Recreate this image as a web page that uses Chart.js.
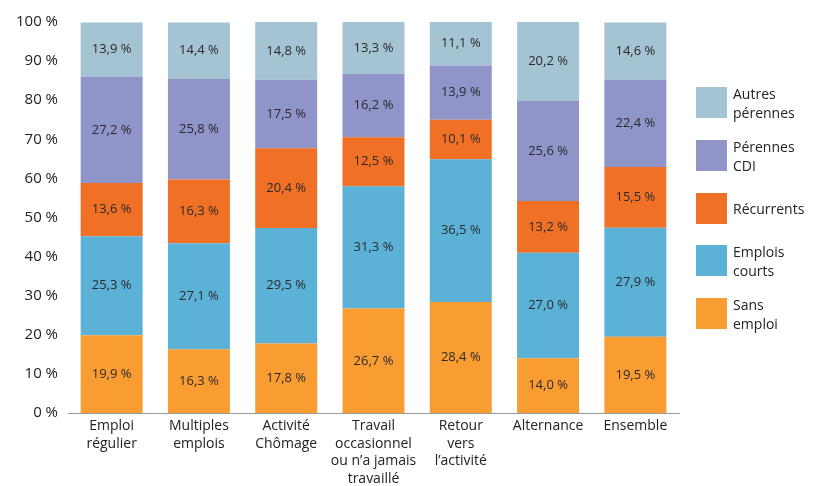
<!DOCTYPE html>
<html>
<head>
<meta charset="utf-8">
<script src="https://cdn.jsdelivr.net/npm/chart.js@4"></script>
<style>
  body { margin: 0; background: #fff; }
  #wrap { position: relative; width: 815px; height: 486px; }
  .leg { position: absolute; left: 696px; font: 14px 'Open Sans', sans-serif; color: #222; }
  .leg span { position: absolute; left: 0; top: 0; width: 31px; height: 31px; }
  .leg div { position: absolute; left: 37px; top: -3px; line-height: 19px; white-space: nowrap; }
</style>
</head>
<body>
<div id="wrap">
  <canvas id="chart"></canvas>
  <div id="legend"></div>
</div>
<script>
const categories = [
  ['Emploi', 'régulier'],
  ['Multiples', 'emplois'],
  ['Activité', 'Chômage'],
  ['Travail', 'occasionnel', 'ou n\u2019a jamais', 'travaillé'],
  ['Retour', 'vers', 'l\u2019activité'],
  'Alternance',
  'Ensemble'
];

const sansEmploi = [19.9, 16.3, 17.8, 26.7, 28.4, 14.0, 19.5];
const emploisCourts = [25.3, 27.1, 29.5, 31.3, 36.5, 27.0, 27.9];
const recurrents = [13.6, 16.3, 20.4, 12.5, 10.1, 13.2, 15.5];
const perennesCdi = [27.2, 25.8, 17.5, 16.2, 13.9, 25.6, 22.4];
const autresPerennes = [13.9, 14.4, 14.8, 13.3, 11.1, 20.2, 14.6];

const yTicks = [0, 10, 20, 30, 40, 50, 60, 70, 80, 90, 100];

const series = [
  { label: ['Sans', 'emploi'], data: sansEmploi, color: '#F99D32', top: 298 },
  { label: ['Emplois', 'courts'], data: emploisCourts, color: '#5CB2D6', top: 245 },
  { label: ['Récurrents'], data: recurrents, color: '#F07025', top: 193 },
  { label: ['Pérennes', 'CDI'], data: perennesCdi, color: '#8F94C9', top: 140 },
  { label: ['Autres', 'pérennes'], data: autresPerennes, color: '#A4C3D3', top: 87 }
];

const fmt = (v) => v.toFixed(1).replace('.', ',') + ' %';

// html legend on the right
const legend = document.getElementById('legend');
series.forEach((s) => {
  const item = document.createElement('div');
  item.className = 'leg';
  item.style.top = s.top + 'px';
  const box = document.createElement('span');
  box.style.background = s.color;
  const txt = document.createElement('div');
  if (s.label.length === 1) txt.style.top = '6px';
  txt.innerHTML = s.label.join('<br>');
  item.appendChild(box);
  item.appendChild(txt);
  legend.appendChild(item);
});

const valueLabels = {
  id: 'valueLabels',
  afterDatasetsDraw(chart) {
    const ctx = chart.ctx;
    ctx.save();
    ctx.font = '13px "Open Sans", sans-serif';
    ctx.fillStyle = '#2a2a2a';
    ctx.textAlign = 'center';
    ctx.textBaseline = 'middle';
    chart.data.datasets.forEach((ds, i) => {
      chart.getDatasetMeta(i).data.forEach((bar, j) => {
        const y = (bar.y + bar.base) / 2;
        ctx.fillText(fmt(ds.data[j]), bar.x, y);
      });
    });
    ctx.restore();
  }
};

new Chart(document.getElementById('chart'), {
  type: 'bar',
  data: {
    labels: categories,
    datasets: series.map((s) => ({
      label: s.label.join(' '),
      data: s.data,
      backgroundColor: s.color,
      borderWidth: 0,
      barPercentage: 0.71,
      categoryPercentage: 1
    }))
  },
  options: {
    responsive: true,
    maintainAspectRatio: false,
    animation: false,
    layout: { padding: { top: 22, right: 136, left: 0, bottom: 0 } },
    plugins: { legend: { display: false }, tooltip: { enabled: false } },
    scales: {
      x: {
        stacked: true,
        grid: { display: false, drawTicks: false },
        border: { color: '#9a9a9a', width: 1 },
        ticks: {
          color: '#222',
          font: { family: 'Open Sans', size: 14, lineHeight: 1.27 },
          padding: 4,
          maxRotation: 0,
          autoSkip: false
        },
        afterFit: (scale) => { scale.height = 73; }
      },
      y: {
        stacked: true,
        min: 0,
        max: 100,
        grid: { display: false, drawTicks: false },
        border: { display: false },
        afterBuildTicks: (scale) => { scale.ticks = yTicks.map((v) => ({ value: v })); },
        ticks: {
          color: '#222',
          font: { family: 'Open Sans', size: 15 },
          padding: 10,
          callback: (v) => v + ' %'
        },
        afterFit: (scale) => { scale.width = 68; }
      }
    }
  },
  plugins: [valueLabels]
});
</script>
</body>
</html>
